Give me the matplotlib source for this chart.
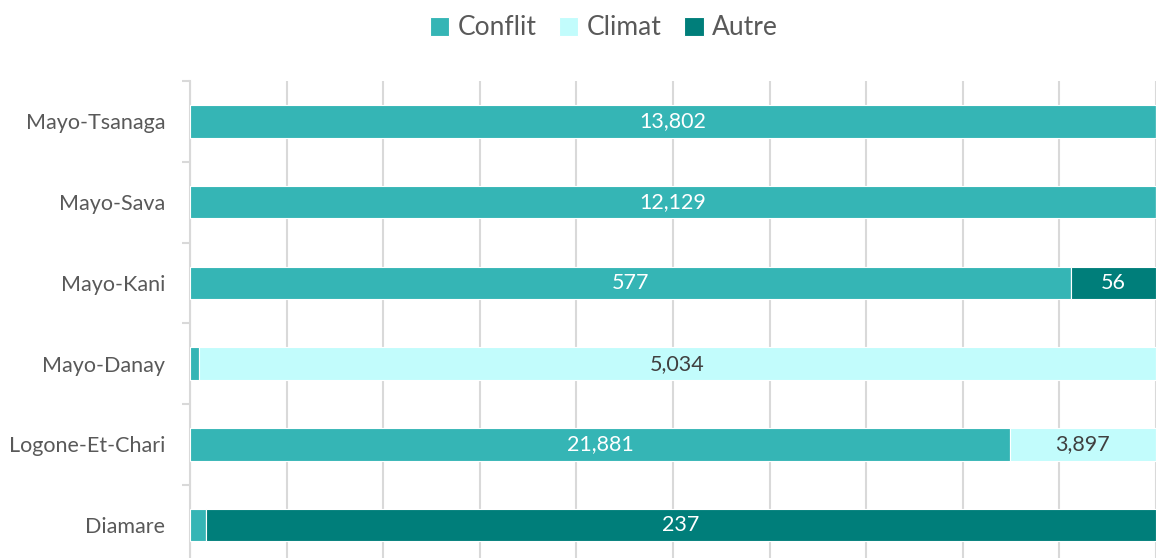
import numpy as np
import matplotlib.pyplot as plt

plt.rcParams['font.family'] = ['Lato', 'DejaVu Sans']

regions = ['Mayo-Tsanaga', 'Mayo-Sava', 'Mayo-Kani', 'Mayo-Danay', 'Logone-Et-Chari', 'Diamare']
conflit = [13802, 12129, 577, 49, 21881, 4]
climat = [0, 0, 0, 5034, 3897, 0]
autre = [0, 0, 56, 0, 0, 237]

series = [('Conflit', conflit, '#35B5B5', 'white'),
          ('Climat', climat, '#C2FCFC', '#404040'),
          ('Autre', autre, '#007E7A', 'white')]

totals = np.array(conflit) + np.array(climat) + np.array(autre)
y = np.arange(len(regions))[::-1]

fig = plt.figure(figsize=(11.56, 5.58), dpi=100)
ax = fig.add_axes([190 / 1156, -7.5 / 558, 966 / 1156, 484.5 / 558])

left = np.zeros(len(regions))
for name, vals, color, tcolor in series:
    share = np.array(vals) / totals
    ax.barh(y, share, left=left, height=0.4, color=color, edgecolor='white',
            linewidth=0.8, label=name, zorder=3)
    for yi, l, s, v in zip(y, left, share, vals):
        if s > 0.05:
            ax.text(l + s / 2, yi, f'{v:,}', ha='center', va='center',
                    color=tcolor, fontsize=15.5, zorder=4)
    left += share

ax.set_xlim(0, 1)
ax.set_ylim(-0.5, len(regions) - 0.5)
ax.set_xticks(np.arange(0, 1.01, 0.1))
ax.set_xticklabels([])
ax.tick_params(axis='x', length=0)
ax.grid(axis='x', color='#d9d9d9', linewidth=1.5, zorder=0)

ax.set_yticks(y)
ax.set_yticklabels(regions, fontsize=15.5, color='#595959')
ax.tick_params(axis='y', length=0, pad=18)
ax.set_yticks(np.arange(-0.5, len(regions), 1), minor=True)
ax.tick_params(axis='y', which='minor', length=6, color='#d9d9d9', width=1.5)

for s in ['top', 'right', 'bottom']:
    ax.spines[s].set_visible(False)
ax.spines['left'].set_color('#d9d9d9')
ax.spines['left'].set_linewidth(1.5)

fig.legend(loc='upper center', bbox_to_anchor=(0.522, 1.015), ncol=3, frameon=False,
           fontsize=19, handlelength=0.75, handleheight=0.75, handletextpad=0.3,
           columnspacing=0.85, labelcolor='#595959')

fig.savefig('out.png', dpi=100)
